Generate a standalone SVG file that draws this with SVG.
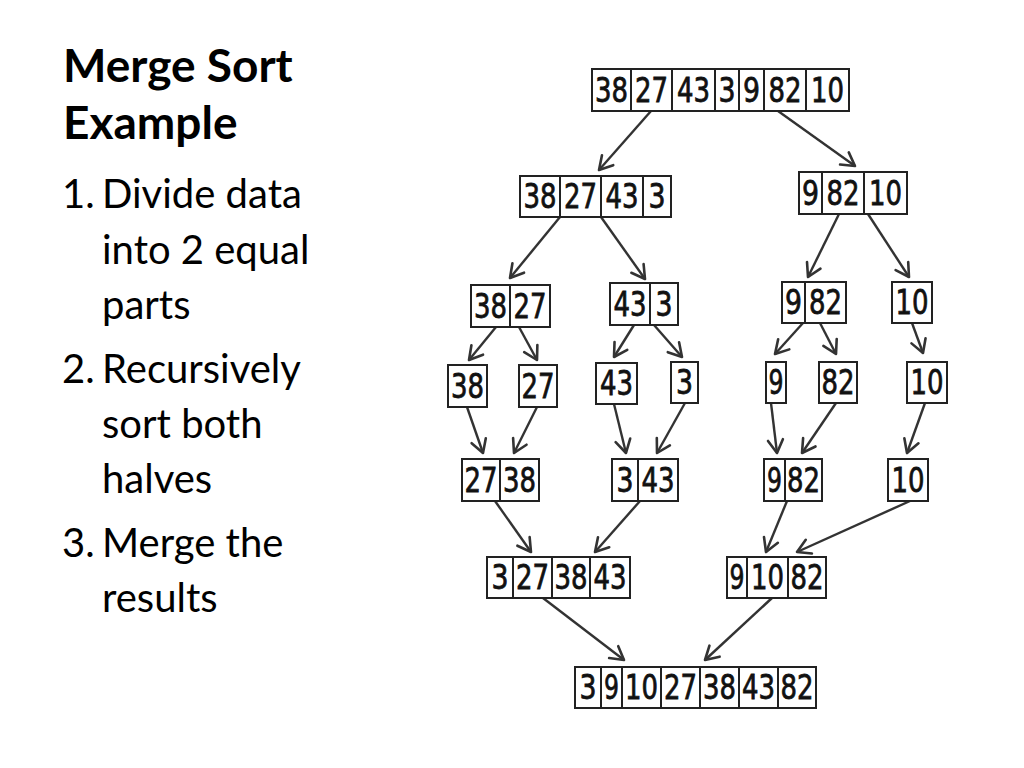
<svg xmlns="http://www.w3.org/2000/svg" width="1024" height="768" viewBox="0 0 1024 768">
<defs>
<style>
.c{fill:#fff;stroke:#222;stroke-width:2}
.n{font-family:"DejaVu Sans",sans-serif;font-size:33px;text-anchor:middle;fill:#111;stroke:#111;stroke-width:0.8}
.t{font-family:Lato,"Liberation Sans",sans-serif;fill:#000}
.tb{font-size:46px;font-weight:bold}
.tr{font-size:40px}
.a{fill:none;stroke:#333;stroke-width:2.4;marker-end:url(#ah)}
</style>
<marker id="ah" markerUnits="userSpaceOnUse" markerWidth="20" markerHeight="20" refX="0" refY="0" viewBox="-14 -10 16 20" orient="auto" overflow="visible">
<path d="M-13,-7.5 L0,0 L-13,7.5" fill="none" stroke="#333" stroke-width="2.6" stroke-linecap="round" stroke-linejoin="round"/>
</marker>
</defs>
<rect width="1024" height="768" fill="#fff"/>

<g id="text">
<text class="t tb" x="63" y="82">Merge Sort</text>
<text class="t tb" x="63" y="139">Example</text>
<text class="t tr" x="62" y="208">1.</text><text class="t tr" x="102" y="208">Divide data</text>
<text class="t tr" x="102" y="264">into 2 equal</text>
<text class="t tr" x="102" y="319">parts</text>
<text class="t tr" x="62" y="383">2.</text><text class="t tr" x="102" y="383">Recursively</text>
<text class="t tr" x="102" y="438">sort both</text>
<text class="t tr" x="102" y="493">halves</text>
<text class="t tr" x="62" y="557">3.</text><text class="t tr" x="102" y="557">Merge the</text>
<text class="t tr" x="102" y="612">results</text>
</g>

<g id="connectors">
<line class="a" x1="651" y1="111" x2="599" y2="170"/>
<line class="a" x1="778" y1="111" x2="855" y2="166"/>
<line class="a" x1="560" y1="217" x2="510" y2="278"/>
<line class="a" x1="601" y1="217" x2="645" y2="279"/>
<line class="a" x1="839" y1="214" x2="808" y2="277"/>
<line class="a" x1="868" y1="214" x2="909" y2="277"/>
<line class="a" x1="496" y1="327" x2="469" y2="360"/>
<line class="a" x1="519" y1="327" x2="537" y2="360"/>
<line class="a" x1="634" y1="325" x2="614" y2="357"/>
<line class="a" x1="654" y1="325" x2="682" y2="357"/>
<line class="a" x1="803" y1="323" x2="775" y2="354"/>
<line class="a" x1="820" y1="323" x2="836" y2="354"/>
<line class="a" x1="912" y1="323" x2="923" y2="353"/>
<line class="a" x1="467" y1="407" x2="483" y2="453"/>
<line class="a" x1="537" y1="407" x2="514" y2="453"/>
<line class="a" x1="614" y1="404" x2="626" y2="453"/>
<line class="a" x1="685" y1="403" x2="657" y2="453"/>
<line class="a" x1="771" y1="403" x2="777" y2="453"/>
<line class="a" x1="836" y1="403" x2="802" y2="453"/>
<line class="a" x1="925" y1="403" x2="907" y2="453"/>
<line class="a" x1="495" y1="501" x2="531" y2="552"/>
<line class="a" x1="640" y1="501" x2="595" y2="552"/>
<line class="a" x1="787" y1="501" x2="766" y2="552"/>
<line class="a" x1="910" y1="501" x2="797" y2="552"/>
<line class="a" x1="543" y1="598" x2="624" y2="660"/>
<line class="a" x1="772" y1="598" x2="705" y2="660"/>
</g>

<g id="n-38-27-43-3-9-82-10">
<rect class="c" x="592" y="69" width="39" height="42"/><rect class="c" x="631" y="69" width="41" height="42"/><rect class="c" x="672" y="69" width="43" height="42"/><rect class="c" x="715" y="69" width="24" height="42"/><rect class="c" x="739" y="69" width="25" height="42"/><rect class="c" x="764" y="69" width="42" height="42"/><rect class="c" x="806" y="69" width="43" height="42"/>
<text class="n" x="611.5" y="102" textLength="33" lengthAdjust="spacingAndGlyphs">38</text>
<text class="n" x="651.5" y="102" textLength="33" lengthAdjust="spacingAndGlyphs">27</text>
<text class="n" x="693.5" y="102" textLength="33" lengthAdjust="spacingAndGlyphs">43</text>
<text class="n" x="727" y="102" textLength="17" lengthAdjust="spacingAndGlyphs">3</text>
<text class="n" x="751.5" y="102" textLength="17" lengthAdjust="spacingAndGlyphs">9</text>
<text class="n" x="785" y="102" textLength="33" lengthAdjust="spacingAndGlyphs">82</text>
<text class="n" x="827.5" y="102" textLength="33" lengthAdjust="spacingAndGlyphs">10</text>
</g>

<g id="n-38-27-43-3">
<rect class="c" x="520" y="176" width="40" height="41"/><rect class="c" x="560" y="176" width="41" height="41"/><rect class="c" x="601" y="176" width="42" height="41"/><rect class="c" x="643" y="176" width="28" height="41"/>
<text class="n" x="540" y="208" textLength="33" lengthAdjust="spacingAndGlyphs">38</text>
<text class="n" x="580.5" y="208" textLength="33" lengthAdjust="spacingAndGlyphs">27</text>
<text class="n" x="622" y="208" textLength="33" lengthAdjust="spacingAndGlyphs">43</text>
<text class="n" x="657" y="208" textLength="17" lengthAdjust="spacingAndGlyphs">3</text>
</g>

<g id="n-9-82-10">
<rect class="c" x="799" y="172" width="23" height="42"/><rect class="c" x="822" y="172" width="42" height="42"/><rect class="c" x="864" y="172" width="43" height="42"/>
<text class="n" x="810.5" y="205" textLength="17" lengthAdjust="spacingAndGlyphs">9</text>
<text class="n" x="843" y="205" textLength="33" lengthAdjust="spacingAndGlyphs">82</text>
<text class="n" x="885.5" y="205" textLength="33" lengthAdjust="spacingAndGlyphs">10</text>
</g>

<g id="n-38-27">
<rect class="c" x="471" y="285" width="39" height="42"/><rect class="c" x="510" y="285" width="40" height="42"/>
<text class="n" x="490.5" y="318" textLength="33" lengthAdjust="spacingAndGlyphs">38</text>
<text class="n" x="530" y="318" textLength="33" lengthAdjust="spacingAndGlyphs">27</text>
</g>

<g id="n-43-3">
<rect class="c" x="610" y="283" width="40" height="42"/><rect class="c" x="650" y="283" width="28" height="42"/>
<text class="n" x="630" y="316" textLength="33" lengthAdjust="spacingAndGlyphs">43</text>
<text class="n" x="664" y="316" textLength="17" lengthAdjust="spacingAndGlyphs">3</text>
</g>

<g id="n-9-82">
<rect class="c" x="782" y="282" width="23" height="41"/><rect class="c" x="805" y="282" width="41" height="41"/>
<text class="n" x="793.5" y="314" textLength="17" lengthAdjust="spacingAndGlyphs">9</text>
<text class="n" x="825.5" y="314" textLength="33" lengthAdjust="spacingAndGlyphs">82</text>
</g>

<g id="n-10-a">
<rect class="c" x="892" y="282" width="40" height="41"/>
<text class="n" x="912" y="314" textLength="33" lengthAdjust="spacingAndGlyphs">10</text>
</g>

<g id="n-38">
<rect class="c" x="448" y="365" width="39" height="42"/>
<text class="n" x="467.5" y="398" textLength="33" lengthAdjust="spacingAndGlyphs">38</text>
</g>
<g id="n-27">
<rect class="c" x="519" y="365" width="38" height="42"/>
<text class="n" x="538" y="398" textLength="33" lengthAdjust="spacingAndGlyphs">27</text>
</g>
<g id="n-43">
<rect class="c" x="596" y="363" width="41" height="41"/>
<text class="n" x="616.5" y="395" textLength="33" lengthAdjust="spacingAndGlyphs">43</text>
</g>
<g id="n-3">
<rect class="c" x="671" y="362" width="27" height="41"/>
<text class="n" x="684.5" y="394" textLength="17" lengthAdjust="spacingAndGlyphs">3</text>
</g>
<g id="n-9">
<rect class="c" x="766" y="362" width="20" height="41"/>
<text class="n" x="776" y="394" textLength="15" lengthAdjust="spacingAndGlyphs">9</text>
</g>
<g id="n-82">
<rect class="c" x="819" y="362" width="38" height="41"/>
<text class="n" x="838" y="394" textLength="33" lengthAdjust="spacingAndGlyphs">82</text>
</g>
<g id="n-10-b">
<rect class="c" x="907" y="362" width="40" height="41"/>
<text class="n" x="927" y="394" textLength="33" lengthAdjust="spacingAndGlyphs">10</text>
</g>

<g id="n-27-38">
<rect class="c" x="462" y="459" width="38" height="42"/><rect class="c" x="500" y="459" width="39" height="42"/>
<text class="n" x="481" y="492" textLength="33" lengthAdjust="spacingAndGlyphs">27</text>
<text class="n" x="519.5" y="492" textLength="33" lengthAdjust="spacingAndGlyphs">38</text>
</g>
<g id="n-3-43">
<rect class="c" x="612" y="459" width="26" height="42"/><rect class="c" x="638" y="459" width="40" height="42"/>
<text class="n" x="625" y="492" textLength="17" lengthAdjust="spacingAndGlyphs">3</text>
<text class="n" x="658" y="492" textLength="33" lengthAdjust="spacingAndGlyphs">43</text>
</g>
<g id="n-9-82-s">
<rect class="c" x="764" y="459" width="21" height="42"/><rect class="c" x="785" y="459" width="37" height="42"/>
<text class="n" x="774.5" y="492" textLength="15" lengthAdjust="spacingAndGlyphs">9</text>
<text class="n" x="803.5" y="492" textLength="33" lengthAdjust="spacingAndGlyphs">82</text>
</g>
<g id="n-10-c">
<rect class="c" x="888" y="459" width="40" height="42"/>
<text class="n" x="908" y="492" textLength="33" lengthAdjust="spacingAndGlyphs">10</text>
</g>

<g id="n-3-27-38-43">
<rect class="c" x="487" y="557" width="26" height="41"/><rect class="c" x="513" y="557" width="39" height="41"/><rect class="c" x="552" y="557" width="38" height="41"/><rect class="c" x="590" y="557" width="40" height="41"/>
<text class="n" x="500" y="589" textLength="17" lengthAdjust="spacingAndGlyphs">3</text>
<text class="n" x="532.5" y="589" textLength="33" lengthAdjust="spacingAndGlyphs">27</text>
<text class="n" x="571" y="589" textLength="33" lengthAdjust="spacingAndGlyphs">38</text>
<text class="n" x="610" y="589" textLength="33" lengthAdjust="spacingAndGlyphs">43</text>
</g>
<g id="n-9-10-82">
<rect class="c" x="727" y="557" width="20" height="41"/><rect class="c" x="747" y="557" width="41" height="41"/><rect class="c" x="788" y="557" width="38" height="41"/>
<text class="n" x="737" y="589" textLength="15" lengthAdjust="spacingAndGlyphs">9</text>
<text class="n" x="767.5" y="589" textLength="33" lengthAdjust="spacingAndGlyphs">10</text>
<text class="n" x="807" y="589" textLength="33" lengthAdjust="spacingAndGlyphs">82</text>
</g>

<g id="n-3-9-10-27-38-43-82">
<rect class="c" x="575" y="667" width="26" height="41"/><rect class="c" x="601" y="667" width="21" height="41"/><rect class="c" x="622" y="667" width="39" height="41"/><rect class="c" x="661" y="667" width="39" height="41"/><rect class="c" x="700" y="667" width="39" height="41"/><rect class="c" x="739" y="667" width="39" height="41"/><rect class="c" x="778" y="667" width="38" height="41"/>
<text class="n" x="588" y="699" textLength="17" lengthAdjust="spacingAndGlyphs">3</text>
<text class="n" x="611.5" y="699" textLength="15" lengthAdjust="spacingAndGlyphs">9</text>
<text class="n" x="641.5" y="699" textLength="33" lengthAdjust="spacingAndGlyphs">10</text>
<text class="n" x="680.5" y="699" textLength="33" lengthAdjust="spacingAndGlyphs">27</text>
<text class="n" x="719.5" y="699" textLength="33" lengthAdjust="spacingAndGlyphs">38</text>
<text class="n" x="758.5" y="699" textLength="33" lengthAdjust="spacingAndGlyphs">43</text>
<text class="n" x="797" y="699" textLength="33" lengthAdjust="spacingAndGlyphs">82</text>
</g>
</svg>
